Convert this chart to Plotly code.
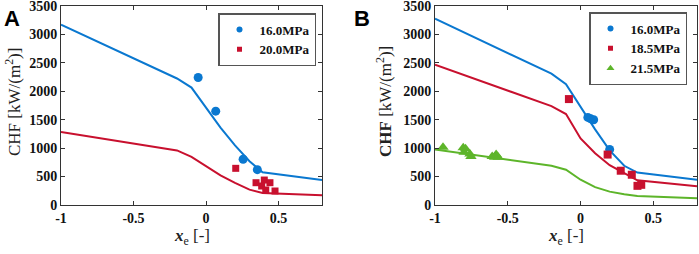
import plotly.graph_objects as go

# ---------------- data ----------------
xe_line = [-1, -0.2, -0.1, 0, 0.1, 0.2, 0.3, 0.39, 0.8]

a_blue_line = [3170, 2225, 2065, 1720, 1360, 1050, 770, 575, 440]
a_red_line = [1286, 960, 846, 687, 523, 388, 270, 211, 170]
a_blue_x = [-0.054, 0.067, 0.256, 0.354]
a_blue_y = [2243, 1650, 804, 622]
a_red_x = [0.205, 0.345, 0.402, 0.441, 0.384, 0.412, 0.476]
a_red_y = [645, 392, 439, 392, 334, 264, 246]

b_blue_line = [3276, 2310, 2125, 1720, 1330, 960, 690, 570, 444]
b_red_line = [2466, 1739, 1600, 1170, 910, 700, 560, 435, 330]
b_green_line = [976, 690, 621, 445, 315, 235, 190, 158, 118]
b_blue_x = [0.05, 0.07, 0.09, 0.2]
b_blue_y = [1540, 1515, 1500, 976]
b_red_x = [-0.08, 0.186, 0.276, 0.352, 0.391, 0.417]
b_red_y = [1863, 887, 603, 532, 337, 355]
b_green_x = [-0.945, -0.806, -0.79, -0.8, -0.76, -0.753, -0.607, -0.58, -0.566, -0.59]
b_green_y = [1017, 1005, 988, 928, 899, 851, 851, 887, 840, 840]

labels_a = ["16.0MPa", "20.0MPa"]
labels_b = ["16.0MPa", "18.5MPa", "21.5MPa"]
x_ticks = [-1, -0.5, 0, 0.5]
y_ticks = [0, 500, 1000, 1500, 2000, 2500, 3000, 3500]

BLUE = "#0A78D0"
RED = "#C8102E"
GREEN = "#5DB52A"

fig = go.Figure()

def line(x, y, color, xa, ya):
    fig.add_trace(go.Scatter(x=x, y=y, mode="lines", line=dict(color=color, width=2),
                             showlegend=False, xaxis=xa, yaxis=ya, hoverinfo="skip"))

def pts(x, y, color, symbol, size, name, xa, ya, legend, lsize):
    fig.add_trace(go.Scatter(x=x, y=y, mode="markers", showlegend=False,
                             marker=dict(color=color, symbol=symbol, size=size, line=dict(width=0)),
                             xaxis=xa, yaxis=ya))
    # small legend swatch (no data drawn)
    fig.add_trace(go.Scatter(x=[None], y=[None], mode="markers", name=f"<b>{name}</b>",
                             marker=dict(color=color, symbol=symbol, size=lsize, line=dict(width=0)),
                             xaxis=xa, yaxis=ya, legend=legend))

line(xe_line, a_blue_line, BLUE, "x", "y")
line(xe_line, a_red_line, RED, "x", "y")
pts(a_blue_x, a_blue_y, BLUE, "circle", 9, labels_a[0], "x", "y", "legend", 6)
pts(a_red_x, a_red_y, RED, "square", 7, labels_a[1], "x", "y", "legend", 5)

line(xe_line, b_blue_line, BLUE, "x2", "y2")
line(xe_line, b_red_line, RED, "x2", "y2")
line(xe_line, b_green_line, GREEN, "x2", "y2")
pts(b_blue_x, b_blue_y, BLUE, "circle", 9, labels_b[0], "x2", "y2", "legend2", 6)
pts(b_red_x, b_red_y, RED, "square", 8, labels_b[1], "x2", "y2", "legend2", 5)
pts(b_green_x, b_green_y, GREEN, "triangle-up", 10, labels_b[2], "x2", "y2", "legend2", 7)

W, H = 699, 254
tickfont = dict(family="Liberation Serif", size=14, color="#111111")
axcommon = dict(showgrid=False, zeroline=False, showline=True, linecolor="#333333", linewidth=1,
                mirror="allticks", ticks="inside", ticklen=4, tickcolor="#333333",
                tickfont=tickfont, automargin=False, ticklabeloverflow="allow")

xa_dom = [61 / W, 322 / W]
xb_dom = [435 / W, 697 / W]
y_dom = [1 - 205 / H, 1 - 6 / H]

xt = [f"<b>{v:g}</b>" for v in x_ticks]
yt = [f"<b>{v}</b>" for v in y_ticks]

legend_common = dict(bgcolor="white", bordercolor="#555555", borderwidth=1.5,
                     font=dict(family="Liberation Serif", size=13, color="#111111"),
                     tracegroupgap=0, itemwidth=30, yanchor="top", xanchor="right")

fig.update_layout(
    width=W, height=H,
    margin=dict(l=0, r=0, t=0, b=0),
    paper_bgcolor="white", plot_bgcolor="white",
    xaxis=dict(domain=xa_dom, range=[-1, 0.8], tickvals=x_ticks, ticktext=xt, anchor="y", **axcommon),
    yaxis=dict(domain=y_dom, range=[0, 3500], tickvals=y_ticks, ticktext=yt, anchor="x", **axcommon),
    xaxis2=dict(domain=xb_dom, range=[-1, 0.8], tickvals=x_ticks, ticktext=xt, anchor="y2", **axcommon),
    yaxis2=dict(domain=y_dom, range=[0, 3500], tickvals=y_ticks, ticktext=yt, anchor="x2", **axcommon),
    legend=dict(x=316 / W, y=1 - 13 / H, **legend_common),
    legend2=dict(x=687 / W, y=1 - 12 / H, **legend_common),
    showlegend=True,
)

ann_font = dict(family="Liberation Serif", size=17, color="#222222")
annotations = [
    dict(text="<b>A</b>", x=2 / W, y=1 - 4 / H, xref="paper", yref="paper", xanchor="left", yanchor="top",
         showarrow=False, font=dict(family="Liberation Sans", size=22, color="black")),
    dict(text="<b>B</b>", x=352 / W, y=1 - 4 / H, xref="paper", yref="paper", xanchor="left", yanchor="top",
         showarrow=False, font=dict(family="Liberation Sans", size=22, color="black")),
    dict(text="CHF [kW/(m<sup>2</sup>)]", x=13 / W, y=1 - 102 / H, xref="paper", yref="paper",
         xanchor="center", yanchor="middle", textangle=-90, showarrow=False, font=ann_font),
    dict(text="<b>CHF</b> [kW/(m<sup>2</sup>)]", x=384 / W, y=1 - 102 / H, xref="paper", yref="paper",
         xanchor="center", yanchor="middle", textangle=-90, showarrow=False, font=ann_font),
    dict(text="<b><i>x</i></b><sub>e</sub> [-]", x=192 / W, y=1 - 237 / H, xref="paper", yref="paper",
         xanchor="center", yanchor="middle", showarrow=False, font=ann_font),
    dict(text="<b><i>x</i></b><sub>e</sub> [-]", x=566 / W, y=1 - 237 / H, xref="paper", yref="paper",
         xanchor="center", yanchor="middle", showarrow=False, font=ann_font),
]
fig.update_layout(annotations=annotations)

fig.write_html("out.html", config={"displayModeBar": False},
               post_script="document.body.style.margin='0px';document.body.style.padding='0px';")
